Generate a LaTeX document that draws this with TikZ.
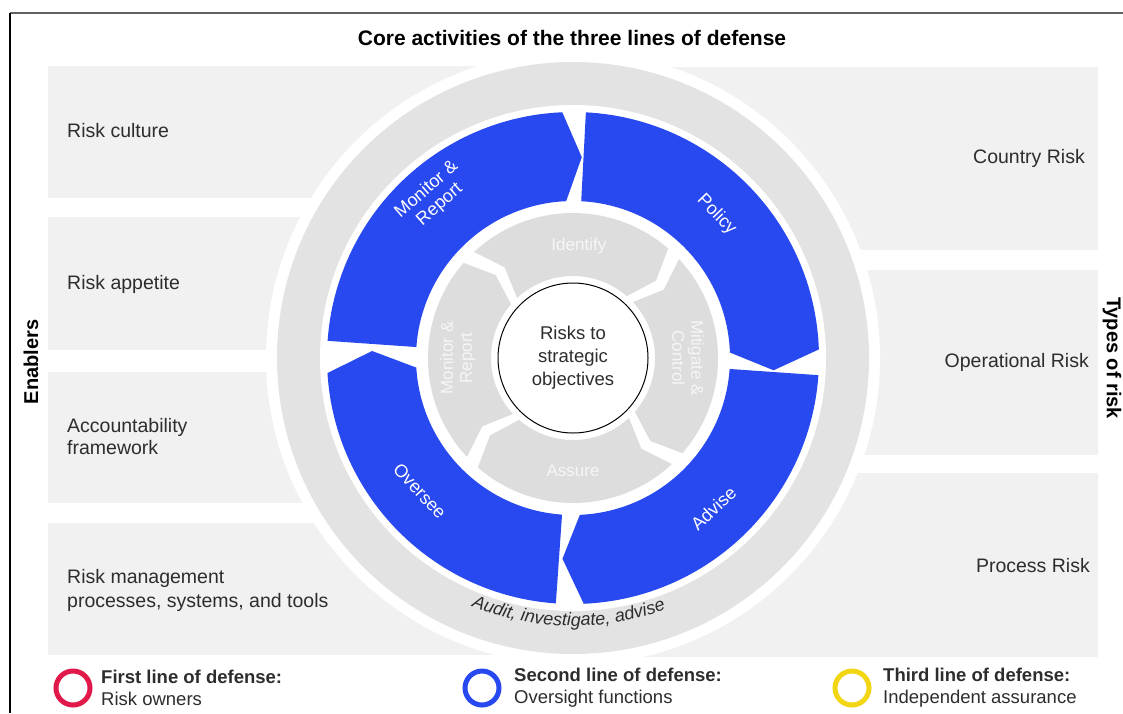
\documentclass[tikz,border=0pt]{standalone}
\usepackage{fontspec}
\setmainfont{Liberation Sans}
\usetikzlibrary{calc,decorations.text}
\definecolor{ringblue}{RGB}{40,72,240}
\definecolor{panelgray}{RGB}{241,241,241}
\definecolor{ringgray}{RGB}{227,227,227}
\definecolor{seggray}{RGB}{221,221,221}
\definecolor{segtext}{RGB}{246,246,246}
\definecolor{lodred}{RGB}{225,25,75}
\definecolor{lodyellow}{RGB}{242,214,20}
\definecolor{txtdark}{RGB}{45,45,45}
% #1 style, #2 tail angle, #3 head base angle, #4 tip angle, #5 notch angle, #6 r in, #7 r out, #8 r mid
\newcommand{\ringarrow}[8]{%
  \fill[#1] ($(C)+(#2:#7pt)$) arc[start angle=#2, end angle=#3, radius=#7pt]
    -- ($(C)+(#4:#8pt)$) -- ($(C)+(#3:#6pt)$)
    arc[start angle=#3, end angle=#2, radius=#6pt]
    -- ($(C)+(#5:#8pt)$) -- cycle;}
\begin{document}
\begin{tikzpicture}[x=1pt,y=1pt,
  panel/.style={fill=panelgray},
  lbl/.style={font=\fontsize{19.5}{22}\selectfont, align=left, text=txtdark, inner sep=0pt},
  rlbl/.style={font=\fontsize{19.5}{22}\selectfont, align=right, text=txtdark, inner sep=0pt},
  heading/.style={font=\bfseries\fontsize{20}{24}\selectfont, text=black, inner sep=0pt},
  bluetxt/.style={font=\fontsize{18}{20}\selectfont, text=white, align=center, inner sep=0pt},
  segtxt/.style={font=\fontsize{17}{19}\selectfont, text=segtext, align=center, inner sep=0pt},
  legring/.style={circle, line width=5pt, minimum size=34pt, inner sep=0pt},
  legtxt/.style={font=\fontsize{18.5}{22}\selectfont, align=left, text=txtdark, inner sep=0pt, anchor=west}]
\useasboundingbox (0,0) rectangle (1123,-713);
\fill[white] (0,0) rectangle (1123,-713);
\coordinate (C) at (573,-358);
% frame
\coordinate (fTL) at (10,-13);
\coordinate (fTR) at (1123,-13);
\coordinate (fBL) at (10,-713);
\draw[gray!75!black, line width=2pt] (fTL) -- (fTR);
\draw[black, line width=1.5pt] (fTL) -- (fBL);
% left panels
\fill[panel] (48,-66) rectangle (573,-198);
\fill[panel] (48,-217) rectangle (573,-350);
\fill[panel] (48,-372) rectangle (573,-503);
\fill[panel] (48,-523) rectangle (573,-655);
% right panels
\fill[panel] (573,-67) rectangle (1098,-250);
\fill[panel] (573,-270) rectangle (1098,-455);
\fill[panel] (573,-473) rectangle (1098,-657);
% rings
\fill[white] (C) circle[radius=307pt];
\fill[ringgray] (C) circle[radius=296pt];
\fill[white] (C) circle[radius=253pt];
% blue arrows (clockwise)
\ringarrow{ringblue}{176}{92.5}{87.5}{176}{157}{246}{201}
\ringarrow{ringblue}{87}{2}{-3.5}{87}{157}{246}{201}
\ringarrow{ringblue}{-4}{-87.5}{-93}{-4}{157}{246}{201}
\ringarrow{ringblue}{266}{183.5}{178}{266}{157}{246}{201}
% inner gray arrows
\ringarrow{seggray}{133}{49}{43}{127}{82}{145}{113.5}
\ringarrow{seggray}{43}{-41}{-47}{37}{82}{145}{113.5}
\ringarrow{seggray}{-47}{-131}{-137}{-53}{82}{145}{113.5}
\ringarrow{seggray}{223}{139}{133}{217}{82}{145}{113.5}
% centre
\node[circle, draw=black, line width=1pt, fill=white, minimum size=150pt, inner sep=0pt,
  font=\fontsize{18.5}{23}\selectfont, align=center, text=txtdark] (risks) at (C) {Risks to\\strategic\\objectives};
% blue labels
\node[bluetxt, rotate=41] (bMon) at ($(C)+(131:213pt)$) {Monitor \&\\Report};
\node[bluetxt, rotate=-46] (bPol) at ($(C)+(45:203pt)$) {Policy};
\node[bluetxt, rotate=43] (bAdv) at ($(C)+(-47:206pt)$) {Advise};
\node[bluetxt, rotate=-47] (bOve) at ($(C)+(221:203pt)$) {Oversee};
% inner labels
\node[segtxt] (gIde) at ($(C)+(87:112pt)$) {Identify};
\node[segtxt, rotate=-90] (gMit) at ($(C)+(0:115pt)$) {Mitigate \&\\Control};
\node[segtxt] (gAss) at ($(C)+(-90:113pt)$) {Assure};
\node[segtxt, rotate=90] (gMon) at ($(C)+(180:115pt)$) {Monitor \&\\Report};
% curved text
\path[decorate, decoration={text along path, text align=center,
  text={|\itshape\fontsize{18}{20}\selectfont\color{txtdark}|Audit, investigate, advise}}]
  ($(C)+(-122:268pt)$) arc[start angle=-122, end angle=-60, radius=268pt];
% headings
\node[heading, font=\bfseries\fontsize{21}{24}\selectfont] (title) at (572,-38) {Core activities of the three lines of defense};
\node[heading, rotate=90] (enab) at (31,-362) {Enablers};
\node[heading, rotate=-90] (types) at (1112,-358) {Types of risk};
% left labels
\node[lbl, anchor=west] (l1) at (67,-131) {Risk culture};
\node[lbl, anchor=west] (l2) at (67,-284) {Risk appetite};
\node[lbl, anchor=west] (l3) at (67,-437) {Accountability\\framework};
\node[lbl, anchor=west, font=\fontsize{19.5}{24}\selectfont] (l4) at (67,-590) {Risk management\\processes, systems, and tools};
% right labels
\node[rlbl, anchor=east] (r1) at (1085,-158) {Country Risk};
\node[rlbl, anchor=east] (r2) at (1089,-362) {Operational Risk};
\node[rlbl, anchor=east] (r3) at (1090,-566) {Process Risk};
% legend
\node[legring, draw=lodred] (c1) at (73,-688) {};
\node[legtxt] (t1) at (101,-688) {\textbf{First line of defense:}\\Risk owners};
\node[legring, draw=ringblue] (c2) at (482,-688) {};
\node[legtxt] (t2) at (514,-688) {\textbf{Second line of defense:}\\Oversight functions};
\node[legring, draw=lodyellow] (c3) at (852,-688) {};
\node[legtxt] (t3) at (883,-688) {\textbf{Third line of defense:}\\Independent assurance};
\end{tikzpicture}
\end{document}
